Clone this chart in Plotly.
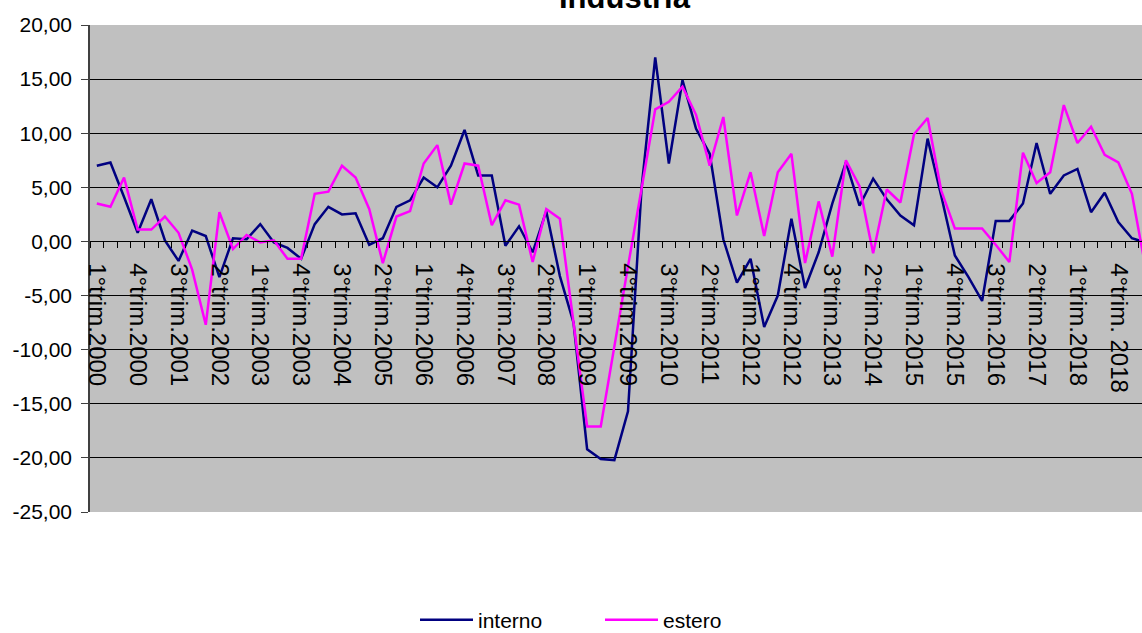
import plotly.graph_objects as go

FONT = "Liberation Sans, Arial, sans-serif"

# Categories: quarters 1Q2000 .. 2Q2019 (the chart is cut at the right edge)
quarters = [f"{q}°trim.{y}" for y in range(2000, 2020) for q in range(1, 5)][:78]

interno = [7.0, 7.3, 4.1, 0.8, 3.9, 0.1, -1.8, 1.0, 0.5, -3.3,
           0.3, 0.2, 1.6, -0.1, -0.6, -1.6, 1.6, 3.2, 2.5, 2.6,
           -0.3, 0.3, 3.2, 3.8, 5.9, 5.0, 7.0, 10.3, 6.1, 6.1,
           -0.4, 1.4, -1.0, 2.8, -3.2, -7.5, -19.2, -20.1, -20.2, -15.7,
           5.0, 17.0, 7.2, 14.9, 10.4, 8.1, 0.2, -3.8, -1.6, -7.9,
           -5.0, 2.1, -4.3, -1.0, 3.5, 7.3, 3.3, 5.8, 3.9, 2.4,
           1.5, 9.5, 4.2, -1.3, -3.3, -5.5, 1.9, 1.9, 3.5, 9.1,
           4.4, 6.1, 6.7, 2.7, 4.5, 1.8, 0.3, -0.1]

estero = [3.5, 3.2, 5.9, 1.1, 1.1, 2.3, 0.8, -2.6, -7.7, 2.7,
          -0.7, 0.6, -0.1, 0.1, -1.6, -1.6, 4.4, 4.6, 7.0, 5.9,
          3.0, -2.0, 2.3, 2.8, 7.2, 8.9, 3.4, 7.2, 7.0, 1.5,
          3.8, 3.4, -1.9, 3.0, 2.1, -7.5, -17.1, -17.1, -9.6, -2.3,
          4.9, 12.2, 12.9, 14.3, 11.7, 7.0, 11.5, 2.4, 6.4, 0.5,
          6.4, 8.1, -2.0, 3.7, -1.4, 7.5, 5.1, -1.1, 4.8, 3.6,
          9.9, 11.4, 4.7, 1.2, 1.2, 1.2, -0.3, -1.9, 8.2, 5.4,
          6.4, 12.6, 9.1, 10.6, 8.0, 7.3, 4.4, -2.4]

tick_labels = ["1°trim.2000", "4°trim.2000", "3°trim.2001", "2°trim.2002",
               "1°trim.2003", "4°trim.2003", "3°trim.2004", "2°trim.2005",
               "1°trim.2006", "4°trim.2006", "3°trim.2007", "2°trim.2008",
               "1°trim.2009", "4°trim.2009", "3°trim.2010", "2°trim.2011",
               "1°trim.2012", "4°trim.2012", "3°trim.2013", "2°trim.2014",
               "1°trim.2015", "4°trim.2015", "3°trim.2016", "2°trim.2017",
               "1°trim.2018", "4°trim. 2018"]

y_ticks = [20, 15, 10, 5, 0, -5, -10, -15, -20, -25]
y_tick_labels = ["20,00", "15,00", "10,00", "5,00", "0,00",
                 "-5,00", "-10,00", "-15,00", "-20,00", "-25,00"]

label_map = dict(zip(quarters[::3], tick_labels))
x_ticktext = [label_map.get(q, "") for q in quarters]

fig = go.Figure()
fig.add_trace(go.Scatter(x=quarters, y=interno, name="interno", mode="lines",
                         line=dict(color="#000080", width=2.5)))
fig.add_trace(go.Scatter(x=quarters, y=estero, name="estero", mode="lines",
                         line=dict(color="#FF00FF", width=2.5)))

fig.update_layout(
    width=1142, height=633,
    margin=dict(l=90, r=0, t=25, b=121, autoexpand=False),
    paper_bgcolor="white", plot_bgcolor="#C0C0C0",
    font=dict(family=FONT, color="black"),
    showlegend=True,
    legend=dict(orientation="h", x=(415 - 90) / 1052, y=-0.222,
                xanchor="left", yanchor="middle",
                font=dict(family=FONT, size=21, color="black"),
                itemwidth=53, entrywidth=117, bgcolor="rgba(0,0,0,0)"),
    annotations=[dict(text="<b>Industria</b>", xref="paper", yref="paper",
                      x=(625 - 90) / 1052, y=1, xanchor="center", yanchor="bottom",
                      yshift=8, showarrow=False,
                      font=dict(family=FONT, size=31, color="black"))],
)

fig.update_xaxes(
    type="category", categoryorder="array", categoryarray=quarters,
    range=[-0.5, 76.74], automargin=False,
    anchor="free", position=25 / 45,
    showline=True, linecolor="black", linewidth=1,
    ticks="outside", ticklen=6, tickcolor="black", tickwidth=1,
    tickson="boundaries",
    tickmode="array", tickvals=quarters, ticktext=x_ticktext,
    tickangle=90, tickfont=dict(family=FONT, size=24, color="black"),
    ticklabelstandoff=16,
    showgrid=False, zeroline=False,
)

fig.update_yaxes(
    range=[-25, 20], automargin=False,
    tickmode="array", tickvals=y_ticks, ticktext=y_tick_labels,
    tickfont=dict(family=FONT, size=21, color="black"),
    ticks="outside", ticklen=7, tickcolor="#404040",
    showline=True, linecolor="#404040", linewidth=1.5,
    showgrid=True, gridcolor="black", gridwidth=1,
    zeroline=False, ticklabelstandoff=5,
)

fig.write_html("out.html",
               config={"displayModeBar": False},
               post_script="document.body.style.margin='0';document.body.style.overflow='hidden';")
